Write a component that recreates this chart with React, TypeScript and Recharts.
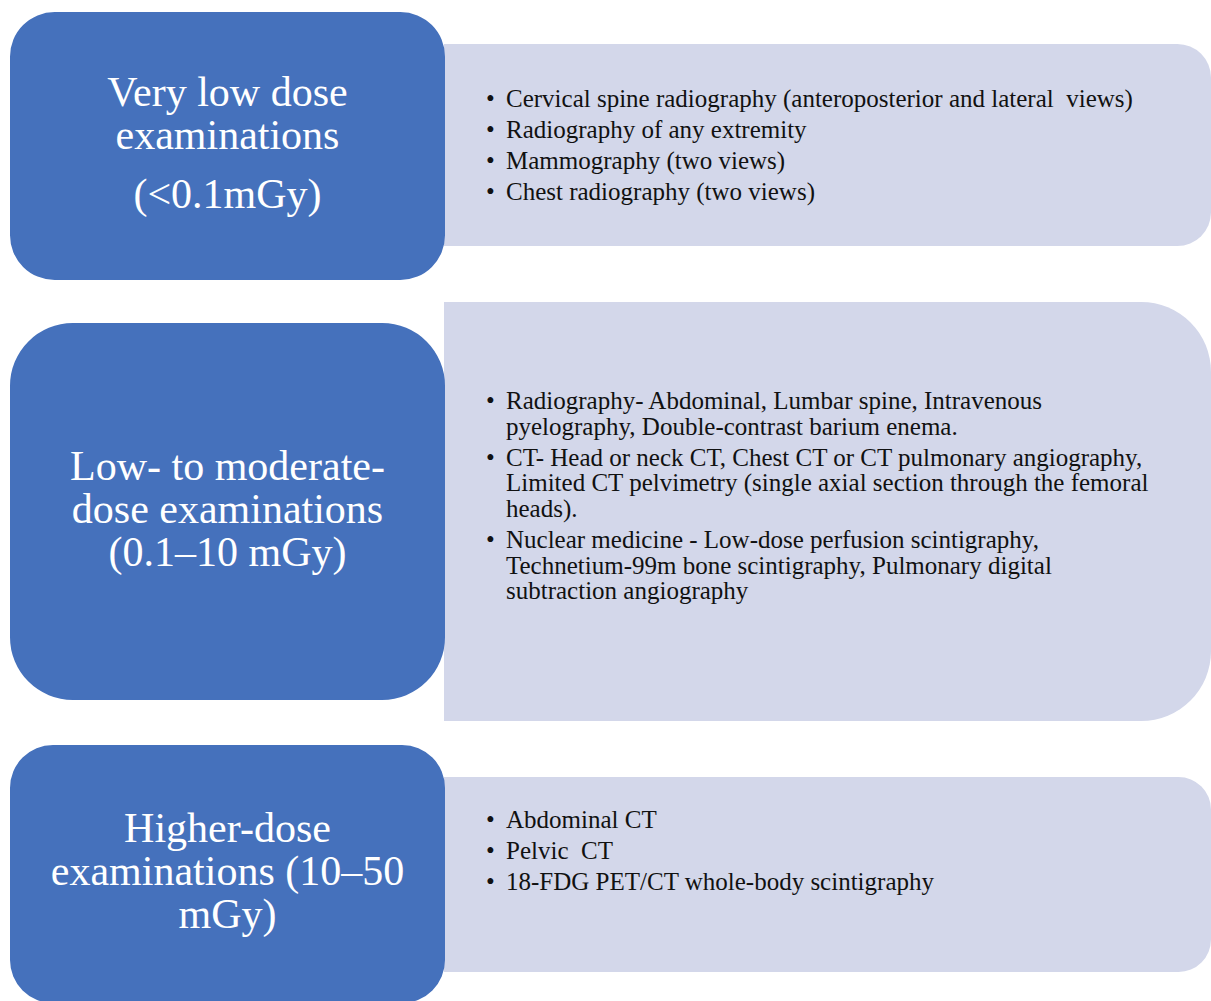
import React from "react";
import { ComposedChart, XAxis, YAxis, ReferenceArea } from "recharts";

// dose categories (top to bottom)
const doseLevels = ["veryLow", "lowModerate", "higher"];

// title lines per level, grouped by paragraph
const levelTitles = [
  [["Very low dose", "examinations"], ["(<0.1mGy)"]],
  [["Low- to moderate-", "dose examinations", "(0.1–10 mGy)"]],
  [["Higher-dose", "examinations (10–50", "mGy)"]],
];

// bullet items per level, each item wrapped into lines as in the source
const levelExams = [
  [
    ["Cervical spine radiography (anteroposterior and lateral  views)"],
    ["Radiography of any extremity"],
    ["Mammography (two views)"],
    ["Chest radiography (two views)"],
  ],
  [
    ["Radiography- Abdominal, Lumbar spine, Intravenous", "pyelography, Double-contrast barium enema."],
    [
      "CT- Head or neck CT, Chest CT or CT pulmonary angiography,",
      "Limited CT pelvimetry (single axial section through the femoral",
      "heads).",
    ],
    [
      "Nuclear medicine - Low-dose perfusion scintigraphy,",
      "Technetium-99m bone scintigraphy, Pulmonary digital",
      "subtraction angiography",
    ],
  ],
  [["Abdominal CT"], ["Pelvic  CT"], ["18-FDG PET/CT whole-body scintigraphy"]],
];

// ---- layout (chart units == px) ----
const W = 1211;
const H = 1001;
const TITLE_X = [10, 445];
const LIST_X = [444, W];
const titleRows = [
  { top: 12, bottom: 280 },
  { top: 323, bottom: 700 },
  { top: 745, bottom: 1003 },
];
const listRows = [
  { top: 44, bottom: 246, firstBaseline: 107 },
  { top: 302, bottom: 721, firstBaseline: 409 },
  { top: 777, bottom: 972, firstBaseline: 828 },
];

const BLUE = "#4571BC";
const LAVENDER = "#D3D7EA";
const SERIF = '"Liberation Serif", "Times New Roman", serif';

const TITLE_SIZE = 42;
const TITLE_LH = 43;
const TITLE_PARA_GAP = 16;
const LIST_SIZE = 25;
const LIST_LH = 25.6;
const LIST_PARA_GAP = 5.5;

const roundRectPath = (x: number, y: number, w: number, h: number, r: number) =>
  `M${x + r},${y} H${x + w - r} A${r},${r} 0 0 1 ${x + w},${y + r} V${y + h - r} ` +
  `A${r},${r} 0 0 1 ${x + w - r},${y + h} H${x + r} A${r},${r} 0 0 1 ${x},${y + h - r} ` +
  `V${y + r} A${r},${r} 0 0 1 ${x + r},${y} Z`;

const rightRoundPath = (x: number, y: number, w: number, h: number, r: number) =>
  `M${x},${y} H${x + w - r} A${r},${r} 0 0 1 ${x + w},${y + r} V${y + h - r} ` +
  `A${r},${r} 0 0 1 ${x + w - r},${y + h} H${x} Z`;

const TitleShape = (props: any) => {
  const { x, y, width, height, level } = props;
  const r = Math.min(width, height) * 0.1667;
  const paras: string[][] = levelTitles[level];
  const lines: { text: string; offset: number }[] = [];
  let off = 0;
  paras.forEach((p, pi) => {
    if (pi > 0) off += TITLE_PARA_GAP;
    p.forEach((t, li) => {
      if (pi > 0 || li > 0) off += TITLE_LH;
      lines.push({ text: t, offset: off });
    });
  });
  const cy = y + height / 2 + 11 - off / 2;
  return (
    <g>
      <path d={roundRectPath(x, y, width, height, r)} fill={BLUE} />
      {lines.map((l, i) => (
        <text
          key={i}
          x={x + width / 2}
          y={cy + l.offset}
          textAnchor="middle"
          fill="#ffffff"
          fontFamily={SERIF}
          fontSize={TITLE_SIZE}
        >
          {l.text}
        </text>
      ))}
    </g>
  );
};

const ListShape = (props: any) => {
  const { x, y, width, height, level } = props;
  const row = listRows[level];
  const r = Math.min(width, height) * 0.1667;
  const items: string[][] = levelExams[level];
  let base = y + (row.firstBaseline - row.top);
  const out: React.ReactNode[] = [];
  items.forEach((item, ii) => {
    if (ii > 0) base += LIST_LH + LIST_PARA_GAP;
    item.forEach((line, li) => {
      if (li > 0) base += LIST_LH;
      if (li === 0) {
        out.push(
          <text key={`b${ii}`} x={x + 42} y={base} fill="#111" fontFamily={SERIF} fontSize={LIST_SIZE}>
            •
          </text>
        );
      }
      out.push(
        <text
          key={`t${ii}-${li}`}
          x={x + 62}
          y={base}
          fill="#111"
          fontFamily={SERIF}
          fontSize={LIST_SIZE}
          style={{ whiteSpace: "pre" }}
        >
          {line}
        </text>
      );
    });
  });
  return (
    <g>
      <path d={rightRoundPath(x, y, width, height, r)} fill={LAVENDER} />
      {out}
    </g>
  );
};

export default function App() {
  return (
    <div style={{ position: "absolute", left: 0, top: 0, width: W, height: H, background: "#fff" }}>
      <ComposedChart width={W} height={H} data={doseLevels.map((d) => ({ level: d }))} margin={{ top: 0, right: 0, bottom: 0, left: 0 }}>
        <XAxis type="number" dataKey="x" domain={[0, W]} hide allowDataOverflow />
        <YAxis type="number" domain={[0, H]} hide reversed allowDataOverflow />
        {doseLevels.map((d, i) => (
          <ReferenceArea
            key={`list-${d}`}
            x1={LIST_X[0]}
            x2={LIST_X[1]}
            y1={listRows[i].top}
            y2={listRows[i].bottom}
            ifOverflow="visible"
            shape={(p: any) => <ListShape {...p} level={i} />}
          />
        ))}
        {doseLevels.map((d, i) => (
          <ReferenceArea
            key={`title-${d}`}
            x1={TITLE_X[0]}
            x2={TITLE_X[1]}
            y1={titleRows[i].top}
            y2={titleRows[i].bottom}
            ifOverflow="visible"
            shape={(p: any) => <TitleShape {...p} level={i} />}
          />
        ))}
      </ComposedChart>
    </div>
  );
}
